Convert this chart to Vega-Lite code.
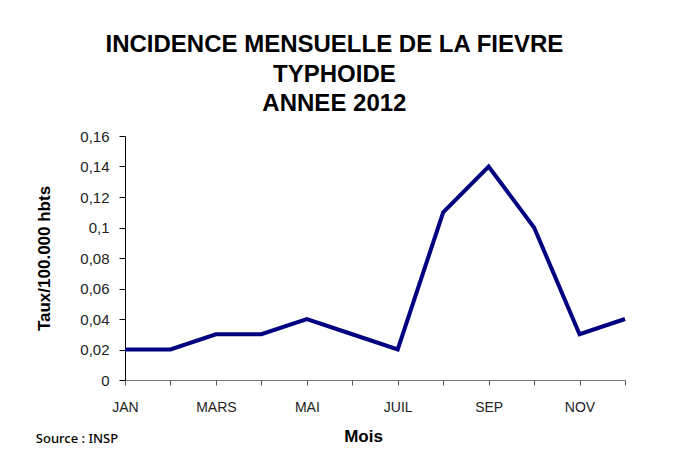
{
  "$schema": "https://vega.github.io/schema/vega-lite/v6.json",
  "padding": {"left": 35, "top": 33, "right": 20, "bottom": 10},
  "background": "white",
  "title": {
    "text": ["INCIDENCE MENSUELLE DE LA FIEVRE", "TYPHOIDE", "ANNEE 2012"],
    "font": "Liberation Sans",
    "fontSize": 24,
    "fontWeight": "bold",
    "lineHeight": 29.5,
    "color": "#000000",
    "anchor": "middle",
    "frame": "bounds",
    "offset": 13
  },
  "vconcat": [
    {
      "width": 500,
      "height": 244,
      "title": {
        "text": "Source : INSP",
        "orient": "bottom",
        "anchor": "start",
        "frame": "bounds",
        "font": "Noto Sans",
        "fontSize": 13,
        "fontWeight": 500,
        "color": "#000000",
        "offset": -11
      },
      "data": {
        "values": [
          {"mois": "JAN", "taux": 0.02},
          {"mois": "FEV", "taux": 0.02},
          {"mois": "MARS", "taux": 0.03},
          {"mois": "AVR", "taux": 0.03},
          {"mois": "MAI", "taux": 0.04},
          {"mois": "JUIN", "taux": 0.03},
          {"mois": "JUIL", "taux": 0.02},
          {"mois": "AOUT", "taux": 0.11},
          {"mois": "SEP", "taux": 0.14},
          {"mois": "OCT", "taux": 0.10},
          {"mois": "NOV", "taux": 0.03},
          {"mois": "DEC", "taux": 0.04}
        ]
      },
      "mark": {"type": "line", "color": "#000080", "strokeWidth": 4, "strokeJoin": "miter"},
      "encoding": {
        "x": {
          "field": "mois",
          "type": "ordinal",
          "sort": null,
          "scale": {"type": "point", "padding": 0},
          "axis": {
            "title": "Mois",
            "titleFont": "Liberation Sans",
            "titleFontSize": 17,
            "titleFontWeight": "bold",
            "titleColor": "#000000",
            "titlePadding": 14,
            "titleX": 238,
            "labelAngle": 0,
            "labelExpr": "indexof(['JAN','MARS','MAI','JUIL','SEP','NOV'], datum.value) >= 0 ? datum.value : ''",
            "labelFont": "Liberation Sans",
            "labelFontSize": 14,
            "labelColor": "#222222",
            "labelPadding": 15,
            "labelOverlap": false,
            "tickSize": 5,
            "tickColor": "#555555",
            "domainColor": "#777777",
            "grid": false
          }
        },
        "y": {
          "field": "taux",
          "type": "quantitative",
          "scale": {"domain": [0, 0.16], "nice": false},
          "axis": {
            "title": "Taux/100.000 hbts",
            "titleFont": "Liberation Sans",
            "titleFontSize": 17,
            "titleFontWeight": "bold",
            "titleColor": "#000000",
            "titlePadding": 26,
            "values": [0, 0.02, 0.04, 0.06, 0.08, 0.1, 0.12, 0.14, 0.16],
            "labelExpr": "replace(format(datum.value, '.2~f'), '.', ',')",
            "labelFont": "Liberation Sans",
            "labelFontSize": 15,
            "labelColor": "#222222",
            "labelPadding": 10,
            "tickSize": 6,
            "tickColor": "#000000",
            "domainColor": "#000000",
            "grid": false
          }
        }
      }
    }
  ],
  "config": {
    "view": {"stroke": null},
    "font": "Liberation Sans",
    "concat": {"spacing": 0}
  }
}
